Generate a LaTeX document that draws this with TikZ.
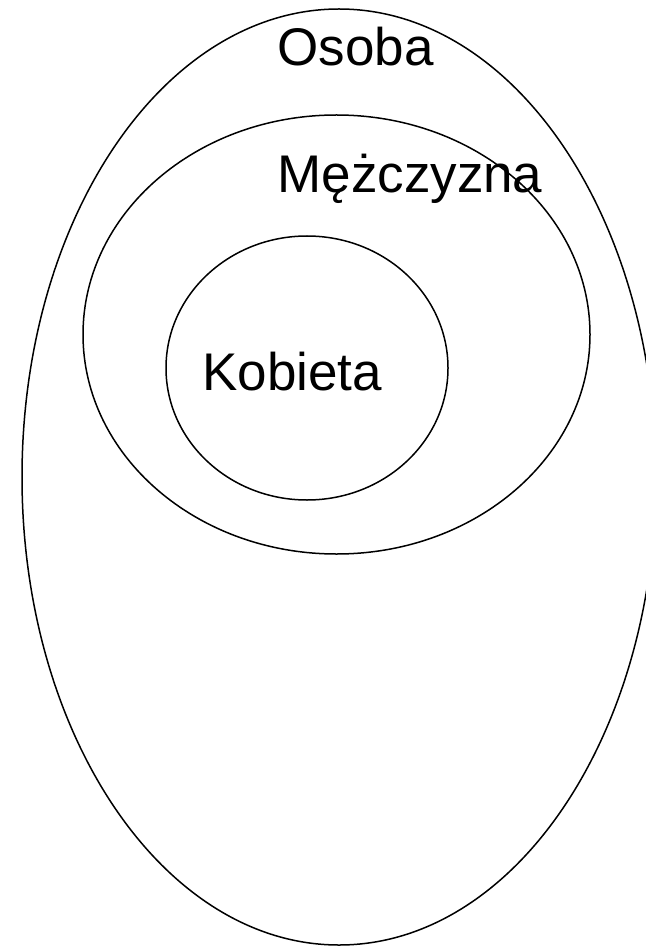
\documentclass[tikz,border=0pt]{standalone}
\usepackage{fontspec}
\setmainfont{Liberation Sans}
\usepackage{tikz}

\begin{document}
\begin{tikzpicture}[
  x=0.5pt, y=-0.5pt,
  setline/.style={line width=0.75pt},
  setlabel/.style={anchor=base west, inner sep=0pt, font=\fontsize{26.5}{30}\selectfont}
]
\clip (0,0) rectangle (646,946);
\draw[setline] (339,477) ellipse [x radius=317, y radius=468];
\draw[setline] (336.5,334.5) ellipse [x radius=253.5, y radius=219.5];
\draw[setline] (307,368) ellipse [x radius=141, y radius=132];

\node[setlabel] (osoba) at (277,66) {Osoba};
\node[setlabel] (mezczyzna) at (277,193) {Mężczyzna};
\node[setlabel] (kobieta) at (202,390) {Kobieta};
\end{tikzpicture}
\end{document}
